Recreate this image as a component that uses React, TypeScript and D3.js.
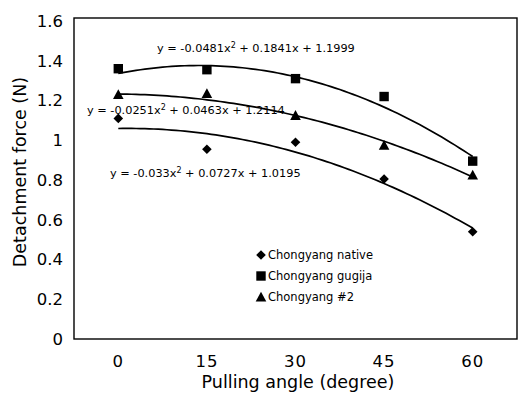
import React from "react";
import * as d3 from "d3";

const categories = ["0", "15", "30", "45", "60"];
const yTicks = [0, 0.2, 0.4, 0.6, 0.8, 1, 1.2, 1.4, 1.6];
const seriesNames = ["Chongyang native", "Chongyang gugija", "Chongyang #2"];
const nativeValues = [1.11, 0.955, 0.99, 0.805, 0.54];
const gugijaValues = [1.36, 1.355, 1.31, 1.22, 0.895];
const no2Values = [1.23, 1.235, 1.125, 0.975, 0.825];
// trendline coefficients [a, b, c] for y = a x^2 + b x + c (x = 1..5)
const nativeFit = [-0.033, 0.0727, 1.0195];
const gugijaFit = [-0.0481, 0.1841, 1.1999];
const no2Fit = [-0.0251, 0.0463, 1.2114];
const eqLabels = [
  { a: "-0.033", b: "0.0727", c: "1.0195" },
  { a: "-0.0481", b: "0.1841", c: "1.1999" },
  { a: "-0.0251", b: "0.0463", c: "1.2114" },
];

const W = 523, H = 398;
const left = 74, right = 517, top = 18, bottom = 339;
const FONT = "'DejaVu Sans', 'Liberation Sans', Arial, sans-serif";

function Marker({ kind, x, y }: { kind: string; x: number; y: number }) {
  if (kind === "diamond") {
    const s = 4.8;
    return <path d={`M${x},${y - s}L${x + s},${y}L${x},${y + s}L${x - s},${y}Z`} fill="#000" />;
  }
  if (kind === "square") {
    const s = 4.7;
    return <rect x={x - s} y={y - s} width={2 * s} height={2 * s} fill="#000" />;
  }
  const s = 5.3;
  return <path d={`M${x},${y - s}L${x + s},${y + s * 0.85}L${x - s},${y + s * 0.85}Z`} fill="#000" />;
}

export default function App() {
  const x = d3.scaleBand<string>().domain(categories).range([left, right]);
  const y = d3.scaleLinear().domain([0, 1.6]).range([bottom, top + 3]);
  const cx = (i: number) => (x(categories[i]) as number) + x.bandwidth() / 2;
  const xi = d3.scaleLinear().domain([1, 5]).range([cx(0), cx(4)]);

  const series = [
    { values: nativeValues, fit: nativeFit, kind: "diamond" },
    { values: gugijaValues, fit: gugijaFit, kind: "square" },
    { values: no2Values, fit: no2Fit, kind: "triangle" },
  ];

  const line = d3
    .line<[number, number]>()
    .x((d) => xi(d[0]))
    .y((d) => y(d[1]));

  const fitPts = (f: number[]) =>
    d3.range(1, 5.001, 0.05).map((t) => [t, f[0] * t * t + f[1] * t + f[2]] as [number, number]);

  const eqPos = [
    { x: 110, y: 177 },
    { x: 157, y: 52 },
    { x: 87, y: 114 },
  ];

  const legendY = [255, 276, 297];

  return (
    <svg
      width={W}
      height={H}
      style={{ position: "absolute", left: 0, top: 0, background: "#fff" }}
      fontFamily={FONT}
    >
      <rect x={0} y={0} width={W} height={H} fill="#fff" />
      <rect x={left} y={top} width={right - left} height={bottom - top} fill="none" stroke="#000" strokeWidth={1.4} />

      {yTicks.map((t) => (
        <text key={t} x={63} y={y(t)} dy="0.36em" textAnchor="end" fontSize={16.5}>
          {String(t)}
        </text>
      ))}
      {categories.map((c, i) => (
        <text key={c} x={cx(i)} y={361} dy="0.36em" textAnchor="middle" fontSize={16.5} letterSpacing={1}>
          {c}
        </text>
      ))}

      <text x={298} y={388} textAnchor="middle" fontSize={17.5}>
        Pulling angle (degree)
      </text>
      <text
        transform={`translate(19.5,${172}) rotate(-90)`}
        textAnchor="middle"
        dy="0.36em"
        fontSize={17.5}
      >
        Detachment force (N)
      </text>

      {series.map((s, si) => (
        <g key={si}>
          <path d={line(fitPts(s.fit)) || ""} fill="none" stroke="#000" strokeWidth={1.7} />
          {s.values.map((v, i) => (
            <Marker key={i} kind={s.kind} x={cx(i)} y={y(v)} />
          ))}
        </g>
      ))}

      {eqLabels.map((e, i) => (
        <text key={i} x={eqPos[i].x} y={eqPos[i].y} fontSize={11.3}>
          {`y = ${e.a}x`}
          <tspan dy={-4} fontSize={8}>2</tspan>
          <tspan dy={4}>{` + ${e.b}x + ${e.c}`}</tspan>
        </text>
      ))}

      {seriesNames.map((n, i) => (
        <g key={n}>
          <Marker kind={series[i].kind} x={261} y={legendY[i]} />
          <text x={268} y={legendY[i]} dy="0.36em" fontSize={11.5}>
            {n}
          </text>
        </g>
      ))}
    </svg>
  );
}
